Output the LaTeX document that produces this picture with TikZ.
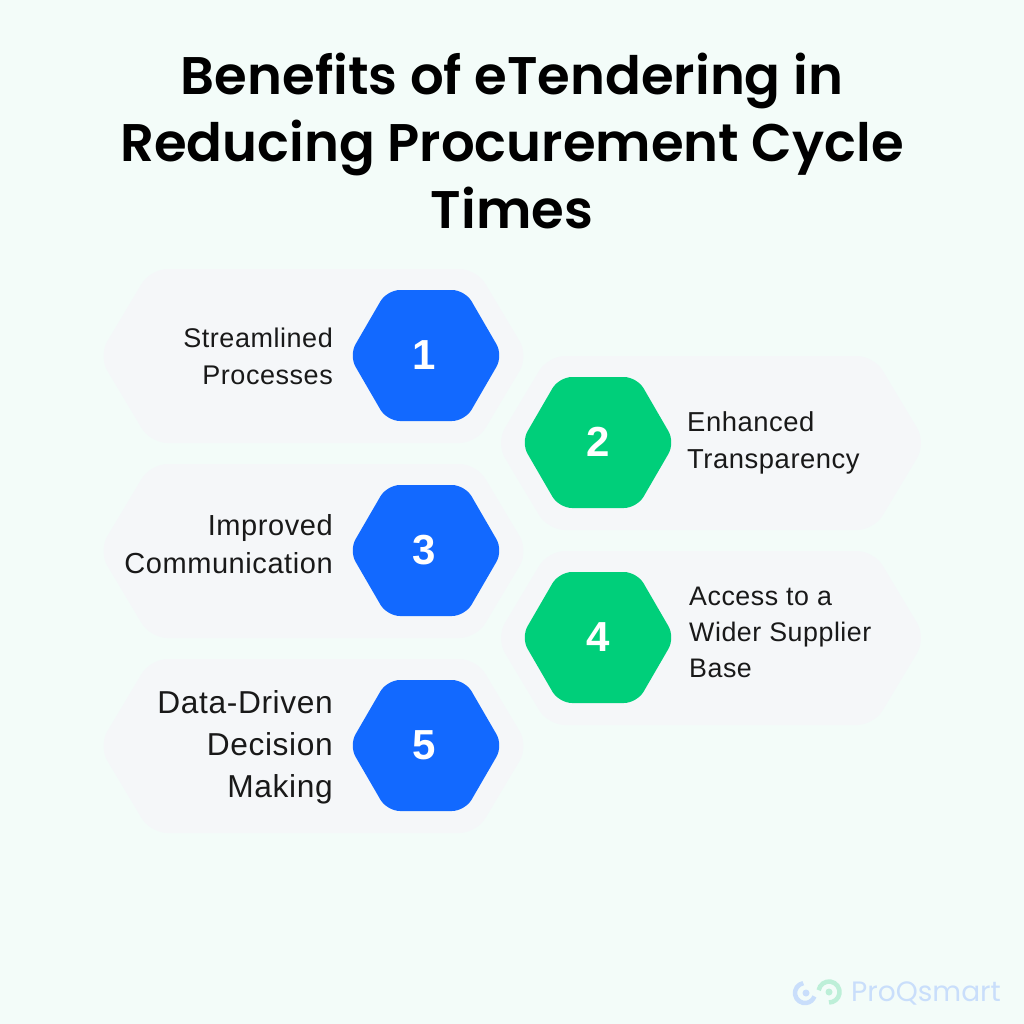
\documentclass[tikz,border=0pt]{standalone}
\usepackage{fontspec}
\usetikzlibrary{calc}
\setmainfont[LetterSpace=2]{Liberation Sans}
\newfontfamily\titlefont{Poppins}
\newfontfamily\titlesemi{Poppins SemiBold}
\definecolor{pagebg}{HTML}{F3FCF9}
\definecolor{cardbg}{HTML}{F5F7F9}
\definecolor{hexblue}{HTML}{1269FF}
\definecolor{hexgreen}{HTML}{00CF7A}
\definecolor{logoblue}{HTML}{C9DEFB}
\definecolor{logogreen}{HTML}{BDEFD8}
\newcommand{\hexpath}[6]{% style, cx, cy, half width, half height, inset
  \path[#1,shift={(#2,#3)}] (-#4,0) -- (-#4+#6,-#5) -- (#4-#6,-#5) -- (#4,0) -- (#4-#6,#5) -- (-#4+#6,#5) -- cycle;}
\tikzset{
  card/.style={fill=cardbg,rounded corners=17pt},
  bluehex/.style={fill=hexblue,rounded corners=13pt},
  greenhex/.style={fill=hexgreen,rounded corners=13pt},
  numlabel/.style={text=white,font=\fontsize{42}{42}\selectfont\bfseries,inner sep=0pt},
  rlabel/.style={anchor=east,align=right,inner sep=0pt,text=black!90},
  llabel/.style={anchor=west,align=left,inner sep=0pt,text=black!90},
  titletext/.style={font=\titlesemi\fontsize{52.9}{67}\selectfont,align=center,inner sep=0pt,text=black}
}
\begin{document}
\begin{tikzpicture}[x=1pt,y=-1pt]
\useasboundingbox (0,0) rectangle (1024,1024);
\fill[pagebg] (0,0) rectangle (1024,1024);
\node[titletext] (title) at (512,141) {Benefits of eTendering in\\Reducing Procurement Cycle\\Times};
\hexpath{card}{313.5}{356}{215}{87}{52}
\hexpath{card}{711}{443}{215}{87}{52}
\hexpath{card}{313.5}{551}{215}{87}{52}
\hexpath{card}{711}{638}{215}{87}{52}
\hexpath{card}{313.5}{746}{215}{87}{52}
\hexpath{bluehex}{426}{355.5}{77}{65.5}{38}
\hexpath{greenhex}{598}{442.5}{77}{65.5}{38}
\hexpath{bluehex}{426}{550.5}{77}{65.5}{38}
\hexpath{greenhex}{598}{637.5}{77}{65.5}{38}
\hexpath{bluehex}{426}{745.5}{77}{65.5}{38}
\node[numlabel] (n1) at (424,355) {1};
\node[numlabel] (n2) at (598,442) {2};
\node[numlabel] (n3) at (424,550) {3};
\node[numlabel] (n4) at (598,637) {4};
\node[numlabel] (n5) at (424,745) {5};
\node[rlabel,font=\fontsize{27}{37}\selectfont] (t1) at (333,356) {Streamlined\\Processes};
\node[llabel,font=\fontsize{27.4}{37}\selectfont] (t2) at (687,443) {Enhanced\\Transparency};
\node[rlabel,font=\fontsize{29}{38}\selectfont] (t3) at (333,544) {Improved\\Communication};
\node[llabel,font=\fontsize{26.8}{36}\selectfont] (t4) at (689,632) {Access to a\\Wider Supplier\\Base};
\node[rlabel,font=\fontsize{31.7}{42}\selectfont] (t5) at (333,747) {Data-Driven\\Decision\\Making};
% logo
\coordinate (bc) at (805,993);
\coordinate (gc) at (829,992);
\draw[logoblue,line width=4.5pt] ($(bc)+(100:10pt)$) arc[start angle=100,end angle=340,radius=10pt];
\fill[logoblue] (806,993) circle (3.5pt);
\draw[logogreen,line width=4.5pt] ($(gc)+(170:10.5pt)$) arc[start angle=170,end angle=-90,radius=10.5pt];
\fill[logogreen] (gc) circle (3.5pt);
\node[anchor=west,inner sep=0pt,text=logoblue,font=\titlefont\fontsize{28}{28}\selectfont] (logo) at (851,993) {ProQsmart};
\end{tikzpicture}
\end{document}
